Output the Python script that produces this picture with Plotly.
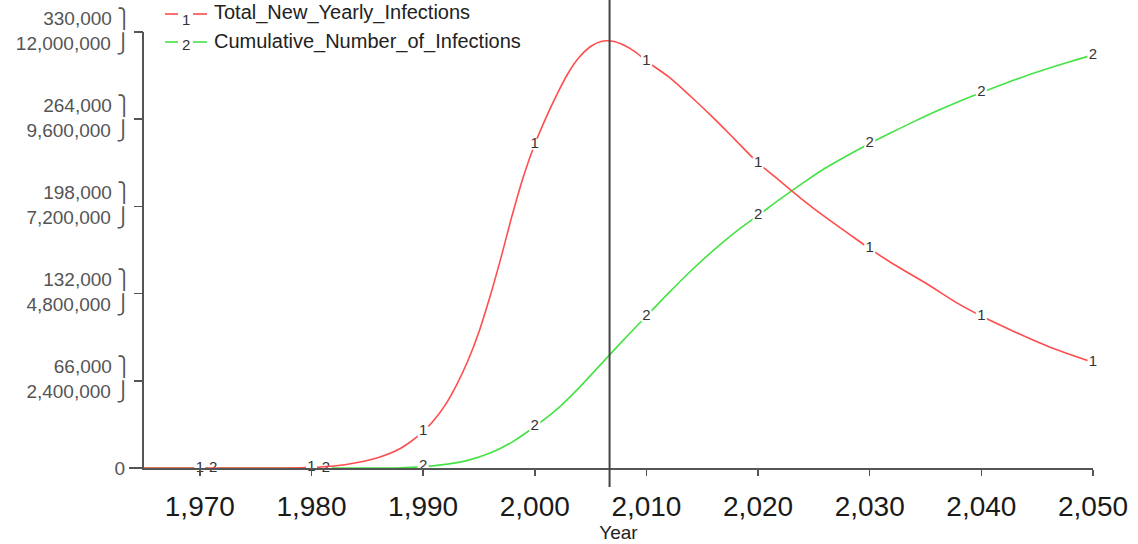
import numpy as np
import plotly.graph_objects as go

# ---------------- data ----------------
YEARS_NEW = [1965, 1970, 1975, 1978, 1980, 1982, 1984, 1986, 1988, 1990, 1991, 1992,
             1993, 1994, 1995, 1996, 1997, 1998, 1999, 2000, 2001, 2002, 2003, 2004,
             2005, 2006, 2007, 2008, 2009, 2010, 2012, 2014, 2016, 2018, 2020, 2022,
             2024, 2026, 2028, 2030, 2032, 2035, 2038, 2040, 2043, 2046, 2050]
TOTAL_NEW_YEARLY_INFECTIONS = [0, 0, 0, 0, 500, 1500, 4000, 8000, 15000, 27500, 36500, 48000,
                               63000, 81000, 103000, 130000, 160000, 192000, 221000, 245000,
                               265000, 283000, 299000, 311000, 319000, 323000, 323000, 320000,
                               315000, 308000, 296000, 281000, 265000, 248000, 231000, 217000,
                               203000, 190000, 178000, 166000, 155000, 140000, 124000, 115000,
                               103000, 92000, 80000]

YEARS_CUM = [1965, 1970, 1975, 1980, 1985, 1987, 1988, 1989, 1990, 1992, 1994, 1996, 1998,
             2000, 2002, 2004, 2006, 2008, 2010, 2012, 2014, 2016, 2018, 2020, 2022, 2024,
             2026, 2028, 2030, 2032, 2034, 2036, 2038, 2040, 2042, 2045, 2048, 2050]
CUMULATIVE_NUMBER_OF_INFECTIONS = [0, 0, 0, 0, 0, 2000, 8000, 20000, 35000, 100000, 210000,
                                   410000, 720000, 1140000, 1620000, 2220000, 2880000, 3540000,
                                   4180000, 4820000, 5430000, 5990000, 6500000, 6950000,
                                   7405000, 7840000, 8250000, 8600000, 8930000, 9240000,
                                   9540000, 9825000, 10090000, 10335000, 10570000, 10900000,
                                   11190000, 11365000]

SERIES_NAMES = ["Total_New_Yearly_Infections", "Cumulative_Number_of_Infections"]
SERIES_IDS = ["1", "2"]

X_TICKS = [1970, 1980, 1990, 2000, 2010, 2020, 2030, 2040, 2050]
X_TICK_LABELS = ["1,970", "1,980", "1,990", "2,000", "2,010", "2,020", "2,030", "2,040", "2,050"]

Y_NEW_TICKS = [66000, 132000, 198000, 264000, 330000]
Y_NEW_LABELS = ["66,000", "132,000", "198,000", "264,000", "330,000"]
Y_CUM_TICKS = [2400000, 4800000, 7200000, 9600000, 12000000]
Y_CUM_LABELS = ["2,400,000", "4,800,000", "7,200,000", "9,600,000", "12,000,000"]

MARK_YEARS_NEW = [1970, 1980, 1990, 2000, 2010, 2020, 2030, 2040, 2050]
MARK_YEARS_CUM = [1971.2, 1981.3, 1990, 2000, 2010, 2020, 2030, 2040, 2050]
CURSOR_YEAR = 2006.7

# ---------------- style ----------------
RED = "#ff4d4d"
GREEN = "#45e245"
AXIS = "#555555"
LABEL = "#555555"
FONT = "Liberation Sans, Arial, sans-serif"

W, H = 1138, 544
ML, MR, MT, MB = 144, 45, 32, 76
PW, PH = W - ML - MR, H - MT - MB


def px(x):
    return (x - ML) / PW


def py(y):
    return (H - MB - y) / PH


fig = go.Figure()

fig.add_trace(go.Scatter(
    x=YEARS_CUM, y=CUMULATIVE_NUMBER_OF_INFECTIONS, mode="lines", name=SERIES_NAMES[1],
    line=dict(color=GREEN, width=1.6, shape="spline", smoothing=1.0), yaxis="y",
    hoverinfo="skip"))
fig.add_trace(go.Scatter(
    x=MARK_YEARS_CUM, y=np.interp(MARK_YEARS_CUM, YEARS_CUM, CUMULATIVE_NUMBER_OF_INFECTIONS),
    mode="markers+text", text=[SERIES_IDS[1]] * len(MARK_YEARS_CUM),
    textposition="middle center", textfont=dict(size=15, color="#333333", family=FONT),
    marker=dict(symbol="square", size=11, color="white"), yaxis="y", cliponaxis=False,
    hoverinfo="skip"))

fig.add_trace(go.Scatter(
    x=YEARS_NEW, y=TOTAL_NEW_YEARLY_INFECTIONS, mode="lines", name=SERIES_NAMES[0],
    line=dict(color=RED, width=1.6, shape="spline", smoothing=1.0), yaxis="y2",
    hoverinfo="skip"))
fig.add_trace(go.Scatter(
    x=MARK_YEARS_NEW, y=np.interp(MARK_YEARS_NEW, YEARS_NEW, TOTAL_NEW_YEARLY_INFECTIONS),
    mode="markers+text", text=[SERIES_IDS[0]] * len(MARK_YEARS_NEW),
    textposition="middle center", textfont=dict(size=15, color="#333333", family=FONT),
    marker=dict(symbol="square", size=11, color="white"), yaxis="y2", cliponaxis=False,
    hoverinfo="skip"))

# empty trace so the zero-label axis is drawn
fig.add_trace(go.Scatter(x=[], y=[], yaxis="y3", hoverinfo="skip"))

common_y = dict(showgrid=False, zeroline=False, ticks="outside", ticklen=8,
                tickcolor=AXIS, tickwidth=1.5, fixedrange=True, automargin=False,
                tickfont=dict(size=19, color=LABEL, family=FONT))

fig.update_layout(
    width=W, height=H, margin=dict(l=ML, r=MR, t=MT, b=MB, pad=0, autoexpand=False),
    paper_bgcolor="white", plot_bgcolor="white", showlegend=False,
    font=dict(family=FONT),
    xaxis=dict(range=[1965, 2050], tickvals=X_TICKS, ticktext=X_TICK_LABELS,
               showgrid=False, zeroline=False, showline=True, linecolor=AXIS, linewidth=2,
               ticks="outside", ticklen=6, tickcolor=AXIS, tickwidth=1.5, automargin=False,
               tickfont=dict(size=28, color="#1a1a1a", family=FONT), ticklabelstandoff=6,
               fixedrange=True,
               title=dict(text="Year", font=dict(size=19, color="#222222", family=FONT),
                          standoff=4)),
    yaxis=dict(range=[0, 12000000], tickvals=Y_CUM_TICKS,
               ticktext=[t + " \u23ad" for t in Y_CUM_LABELS], ticklabelshift=11,
               showline=True, linecolor=AXIS, linewidth=2, **common_y),
    yaxis2=dict(range=[0, 330000], tickvals=Y_NEW_TICKS, overlaying="y", side="left",
                anchor="x", ticktext=[t + " \u23ab" for t in Y_NEW_LABELS],
                ticklabelshift=-14, showline=False, **common_y),
    yaxis3=dict(range=[0, 1], tickvals=[0], ticktext=["0"], overlaying="y", side="left",
                anchor="x", showline=False, showgrid=False, zeroline=False, ticks="outside",
                ticklen=14, tickcolor=AXIS, tickwidth=1.5, automargin=False, fixedrange=True,
                tickfont=dict(size=19, color=LABEL, family=FONT)),
)

# time cursor
fig.add_shape(type="line", xref="x", yref="paper", x0=CURSOR_YEAR, x1=CURSOR_YEAR,
              y0=py(487), y1=py(0), line=dict(color="#444444", width=2), layer="above")

# legend drawn like the original tool
legend_rows = [(14, 20, 12, RED), (42, 45, 42, GREEN)]
for (ly, ny, ty, col), name, sid in zip(legend_rows, SERIES_NAMES, SERIES_IDS):
    for a, b in [(165, 178), (193, 207)]:
        fig.add_shape(type="line", xref="paper", yref="paper", x0=px(a), x1=px(b),
                      y0=py(ly), y1=py(ly), line=dict(color=col, width=1.6))
    fig.add_annotation(xref="paper", yref="paper", x=px(185.5), y=py(ny), text=sid,
                       showarrow=False, font=dict(size=15, color="#333333", family=FONT),
                       xanchor="center", yanchor="middle")
    fig.add_annotation(xref="paper", yref="paper", x=px(212), y=py(ty), text=name,
                       showarrow=False, font=dict(size=20, color="#222222", family=FONT),
                       xanchor="left", yanchor="middle")

fig.write_html("out.html", config={"displayModeBar": False, "staticPlot": True},
               post_script="document.body.style.margin='0px';document.body.style.overflow='hidden';")
